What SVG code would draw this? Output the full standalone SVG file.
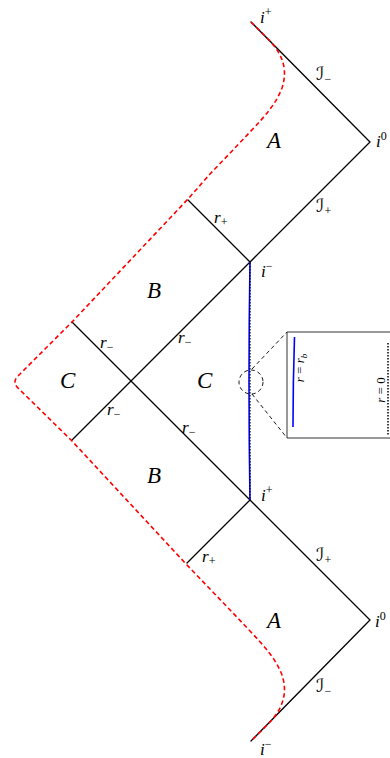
<svg xmlns="http://www.w3.org/2000/svg" width="390" height="758" viewBox="0 0 390 758">
<style>
.ln{stroke:#000;stroke-width:1.3;fill:none;stroke-linecap:round}
.red{stroke:#f00;stroke-width:1.6;fill:none;stroke-dasharray:4.5,3}
.lbl{font-family:"Liberation Serif",serif;font-style:italic;fill:#000}
.big{font-size:23px}
.md{font-size:17px}
.sm{font-size:12px;font-style:normal}
.scr{font-family:"DejaVu Serif","DejaVu Sans",serif;font-size:18px;font-style:italic;fill:#000}
.thin{stroke:#000;stroke-width:0.9;fill:none;stroke-dasharray:4,3}
</style>
<rect width="390" height="758" fill="#fff"/>
<g id="connectors">
<path class="ln" d="M251,22 L370,142 L250,262 L188,200"/>
<path class="ln" d="M250,262 L72,440"/>
<path class="ln" d="M72,322 L250,500 L370,620 L251,741"/>
<path class="ln" d="M250,500 L187,563"/>
<path d="M250,262 Q248,381 250,500" stroke="#00f" stroke-width="1.6" fill="none"/>
<path d="M250,263 L250,499" stroke="#000" stroke-width="1.2" stroke-dasharray="1.5,1.5" fill="none"/>
<path class="red" d="M251,22 L268,39 C283,54 288,70 282,88 C276,104 265,116 250,132 L233,150 L210,174 L188,199 L72,322 L18,376 Q12,382 18,388 L72,441 L187,565 L210,589 L233,613 L250,631 C265,647 276,659 282,675 C288,693 283,709 268,724 L251,741"/>
</g>
<g id="zoom">
<circle cx="251" cy="382" r="12" class="thin"/>
<path class="thin" d="M252,369 L287,332 M252,394 L287,438"/>
<path d="M390,332 H287 V438 H390" stroke="#333" stroke-width="1" fill="none"/>
<path d="M294.5,337 Q293,382 293,427" stroke="#00f" stroke-width="1.6" fill="none"/>
<path d="M388,343 L388,435" stroke="#000" stroke-width="1.5" stroke-dasharray="1.5,1.5" fill="none"/>
<text class="lbl" font-size="13" transform="translate(304,368) rotate(-90)" text-anchor="middle">r<tspan font-style="normal"> = </tspan>r<tspan font-size="9" dy="3">b</tspan></text>
<text class="lbl" font-size="13" transform="translate(385,390) rotate(-90)" text-anchor="middle">r<tspan font-style="normal"> = 0</tspan></text>
</g>
<g id="region-A-top"><text class="lbl big" x="267" y="148">A</text></g>
<g id="region-B-top"><text class="lbl big" x="147" y="298">B</text></g>
<g id="region-C-left"><text class="lbl big" x="60" y="388">C</text></g>
<g id="region-C-right"><text class="lbl big" x="197" y="388">C</text></g>
<g id="region-B-bottom"><text class="lbl big" x="147" y="483">B</text></g>
<g id="region-A-bottom"><text class="lbl big" x="267" y="628">A</text></g>
<g id="labels">
<text class="lbl md" x="260" y="23">i<tspan class="sm" dy="-7">+</tspan></text>
<text class="lbl md" x="376" y="147">i<tspan class="sm" dy="-7">0</tspan></text>
<text class="lbl md" x="261" y="277">i<tspan class="sm" dy="-7">−</tspan></text>
<text class="lbl md" x="261" y="501">i<tspan class="sm" dy="-7">+</tspan></text>
<text class="lbl md" x="375" y="627">i<tspan class="sm" dy="-7">0</tspan></text>
<text class="lbl md" x="260" y="755">i<tspan class="sm" dy="-7">−</tspan></text>
<text class="scr" x="316" y="80">ℐ<tspan class="sm" font-family="Liberation Serif" dy="3">−</tspan></text>
<text class="scr" x="316" y="212">ℐ<tspan class="sm" font-family="Liberation Serif" dy="3">+</tspan></text>
<text class="scr" x="316" y="561">ℐ<tspan class="sm" font-family="Liberation Serif" dy="3">+</tspan></text>
<text class="scr" x="316" y="692">ℐ<tspan class="sm" font-family="Liberation Serif" dy="3">−</tspan></text>
<text class="lbl md" x="214" y="223">r<tspan class="sm" dy="3">+</tspan></text>
<text class="lbl md" x="202" y="562">r<tspan class="sm" dy="3">+</tspan></text>
<text class="lbl md" x="100" y="348">r<tspan class="sm" dy="3">−</tspan></text>
<text class="lbl md" x="178" y="343">r<tspan class="sm" dy="3">−</tspan></text>
<text class="lbl md" x="107" y="415">r<tspan class="sm" dy="3">−</tspan></text>
<text class="lbl md" x="182" y="433">r<tspan class="sm" dy="3">−</tspan></text>
</g>
</svg>
